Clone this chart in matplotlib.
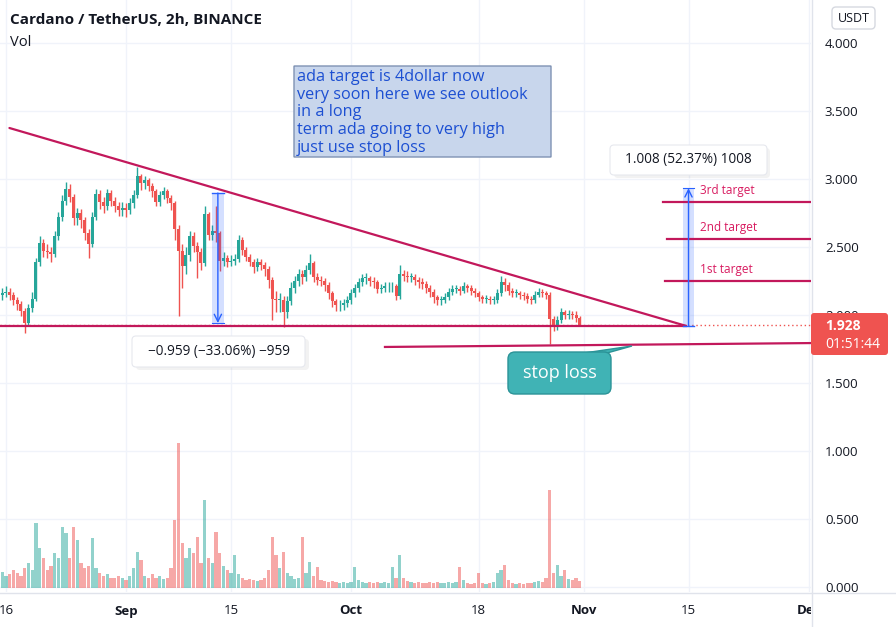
import datetime as dt
import numpy as np
import matplotlib
matplotlib.use("Agg")
import matplotlib.pyplot as plt
import matplotlib.dates as mdates
from matplotlib.colors import to_rgba
from matplotlib.patches import FancyBboxPatch, Rectangle, Polygon
from matplotlib.lines import Line2D
from matplotlib.transforms import Affine2D, Bbox, TransformedBbox, IdentityTransform

W, H = 896, 627
FONT = "Open Sans"

# ---------------- data ----------------
candle_start = "2021-08-15 00:00"
candle_step_hours = 12
first_open = 2.13
closes = [
    2.15, 2.16, 2.17, 2.15, 2.11, 2.08, 2.03, 1.94, 2.05, 2.12,
    2.39, 2.53, 2.47, 2.46, 2.45, 2.58, 2.72, 2.84, 2.93, 2.87,
    2.71, 2.75, 2.70, 2.60, 2.52, 2.72, 2.89, 2.83, 2.80, 2.90,
    2.84, 2.80, 2.77, 2.79, 2.77, 2.82, 2.88, 3.02, 2.97, 2.99,
    2.95, 2.91, 2.83, 2.88, 2.91, 2.86, 2.82, 2.63, 2.47, 2.36,
    2.44, 2.58, 2.51, 2.46, 2.38, 2.74, 2.59, 2.62, 2.60, 2.40,
    2.42, 2.39, 2.40, 2.41, 2.55, 2.48, 2.43, 2.39, 2.35, 2.39,
    2.37, 2.34, 2.26, 2.12, 2.11, 2.11, 2.02, 2.10, 2.20, 2.25,
    2.30, 2.28, 2.33, 2.38, 2.28, 2.26, 2.25, 2.22, 2.16, 2.10,
    2.07, 2.07, 2.09, 2.11, 2.16, 2.20, 2.24, 2.27, 2.27, 2.25,
    2.24, 2.19, 2.20, 2.21, 2.21, 2.21, 2.14, 2.30, 2.29, 2.28,
    2.28, 2.26, 2.24, 2.23, 2.20, 2.17, 2.13, 2.11, 2.11, 2.13,
    2.17, 2.19, 2.19, 2.18, 2.21, 2.20, 2.18, 2.16, 2.13, 2.12,
    2.12, 2.11, 2.11, 2.16, 2.24, 2.22, 2.18, 2.16, 2.16, 2.15,
    2.14, 2.12, 2.11, 2.15, 2.17, 2.16, 2.15, 1.97, 1.91, 1.96,
    2.02, 2.00, 2.01, 2.00, 1.98, 1.928,
]
highs = [
    2.19, 2.20, 2.21, 2.20, 2.17, 2.13, 2.10, 2.05, 2.08, 2.17,
    2.42, 2.58, 2.56, 2.52, 2.50, 2.62, 2.76, 2.88, 2.98, 2.96,
    2.89, 2.79, 2.78, 2.72, 2.63, 2.76, 2.93, 2.92, 2.87, 2.93,
    2.92, 2.87, 2.83, 2.83, 2.82, 2.86, 2.92, 3.09, 3.04, 3.02,
    3.01, 2.97, 2.93, 2.91, 2.94, 2.93, 2.88, 2.84, 2.66, 2.52,
    2.50, 2.62, 2.61, 2.54, 2.49, 2.80, 2.76, 2.66, 2.80, 2.62,
    2.46, 2.44, 2.44, 2.45, 2.59, 2.57, 2.50, 2.45, 2.41, 2.42,
    2.41, 2.39, 2.36, 2.28, 2.18, 2.16, 2.14, 2.14, 2.24, 2.29,
    2.34, 2.33, 2.37, 2.45, 2.40, 2.31, 2.29, 2.27, 2.24, 2.18,
    2.12, 2.11, 2.12, 2.14, 2.19, 2.23, 2.27, 2.30, 2.31, 2.29,
    2.28, 2.26, 2.23, 2.24, 2.24, 2.24, 2.23, 2.37, 2.33, 2.32,
    2.31, 2.30, 2.28, 2.27, 2.25, 2.22, 2.19, 2.15, 2.14, 2.16,
    2.20, 2.22, 2.22, 2.21, 2.24, 2.23, 2.22, 2.20, 2.18, 2.15,
    2.15, 2.14, 2.14, 2.19, 2.29, 2.27, 2.24, 2.20, 2.19, 2.18,
    2.17, 2.16, 2.14, 2.18, 2.20, 2.19, 2.18, 2.17, 1.99, 1.99,
    2.05, 2.04, 2.04, 2.03, 2.03, 1.99,
]
lows = [
    2.10, 2.11, 2.13, 2.11, 2.07, 2.04, 1.99, 1.87, 1.92, 2.02,
    2.10, 2.36, 2.43, 2.42, 2.39, 2.43, 2.55, 2.69, 2.81, 2.83,
    2.66, 2.66, 2.64, 2.55, 2.42, 2.50, 2.70, 2.78, 2.75, 2.77,
    2.80, 2.76, 2.73, 2.73, 2.72, 2.74, 2.79, 2.86, 2.92, 2.93,
    2.91, 2.87, 2.80, 2.80, 2.85, 2.82, 2.77, 2.55, 1.99, 2.20,
    2.30, 2.40, 2.46, 2.27, 2.33, 2.36, 2.55, 2.55, 2.54, 2.32,
    2.36, 2.35, 2.36, 2.37, 2.39, 2.44, 2.40, 2.36, 2.31, 2.32,
    2.33, 2.29, 2.20, 1.96, 2.02, 2.02, 1.91, 1.98, 2.07, 2.16,
    2.21, 2.23, 2.25, 2.30, 2.24, 2.22, 2.21, 2.18, 2.12, 2.06,
    2.03, 2.03, 2.04, 2.06, 2.08, 2.13, 2.17, 2.21, 2.23, 2.21,
    2.20, 2.16, 2.16, 2.17, 2.17, 2.17, 2.11, 2.12, 2.25, 2.24,
    2.24, 2.22, 2.20, 2.19, 2.16, 2.13, 2.09, 2.07, 2.07, 2.09,
    2.11, 2.15, 2.16, 2.15, 2.16, 2.17, 2.15, 2.13, 2.10, 2.09,
    2.09, 2.08, 2.08, 2.09, 2.14, 2.18, 2.15, 2.13, 2.13, 2.12,
    2.11, 2.09, 2.08, 2.09, 2.13, 2.13, 2.12, 1.79, 1.88, 1.89,
    1.94, 1.97, 1.97, 1.97, 1.95, 1.92,
]
volume_m = [
    14, 16, 12, 14, 18, 15, 12, 20, 25, 18,
    65, 40, 30, 18, 22, 35, 30, 61, 55, 30,
    61, 48, 25, 20, 22, 50, 20, 15, 12, 14,
    10, 10, 12, 10, 8, 12, 20, 36, 28, 12,
    10, 14, 10, 12, 9, 10, 20, 68, 145, 45,
    30, 40, 35, 51, 25, 88, 30, 25, 56, 35,
    22, 18, 15, 33, 14, 10, 8, 9, 8, 7,
    8, 10, 18, 51, 33, 20, 36, 15, 12, 9,
    10, 51, 15, 26, 12, 21, 8, 7, 6, 7,
    6, 5, 6, 5, 6, 21, 8, 6, 5, 6,
    5, 6, 5, 6, 5, 21, 10, 33, 10, 7,
    6, 5, 6, 5, 5, 6, 5, 6, 5, 5,
    6, 5, 6, 21, 8, 5, 4, 5, 15, 5,
    4, 5, 6, 15, 18, 23, 8, 5, 4, 5,
    4, 5, 5, 6, 7, 6, 10, 98, 15, 23,
    12, 18, 9, 8, 10, 7,
]

tick_dates = ["2021-08-16", "2021-09-01", "2021-09-15", "2021-10-01",
              "2021-10-18", "2021-11-01", "2021-11-15", "2021-12-01"]
tick_labels = ["16", "Sep", "15", "Oct", "18", "Nov", "15", "Dec"]
month_labels = ["Sep", "Oct", "Nov", "Dec"]
price_ticks = [0.0, 0.5, 1.0, 1.5, 2.0, 2.5, 3.0, 3.5, 4.0]

current_price = 1.928
countdown = "01:51:44"

trend_dates = ["2021-08-16 11:00", "2021-11-14 16:00"]
trend_prices = [3.375, 1.92]
support_dates = ["2021-08-14 00:00", "2021-11-14 16:00"]
support_price = 1.92
stop_dates = ["2021-10-05 12:40", "2021-12-06 00:00"]
stop_prices = [1.765, 1.796]
target_names = ["1st target", "2nd target", "3rd target"]
target_prices = [2.25, 2.559, 2.833]
target_starts = ["2021-11-11 20:50", "2021-11-12 03:00", "2021-11-11 14:20"]

down_meas_date = "2021-09-13 06:00"
down_meas_top, down_meas_bottom = 2.897, 1.941
down_meas_label = "\u22120.959 (\u221233.06%) \u2212959"
up_meas_date = "2021-11-15 00:00"
up_meas_bottom, up_meas_top = 1.92, 2.932
up_meas_label = "1.008 (52.37%) 1008"

note_text = ("ada target is 4dollar now\nvery soon here we see outlook\n"
             "in a long\nterm ada going to very high\njust use stop loss")
stop_text = "stop loss"
title_text = "Cardano / TetherUS, 2h, BINANCE"

# ---------------- style ----------------
UP, DN = "#26a69a", "#ef5350"
CRIMSON = "#c2185b"
BLUE = "#2962ff"
TXT = "#131722"
GRID = "#f0f3fa"

def dnum(s):
    return mdates.date2num(dt.datetime.fromisoformat(s))

fig = plt.figure(figsize=(W / 100, H / 100), dpi=100)
fig.patch.set_facecolor("white")
rect = [0, (H - 592) / H, 811 / W, 592 / H]
axv = fig.add_axes(rect, zorder=0)
ax = fig.add_axes(rect, zorder=1)
ax.patch.set_alpha(0)

sep1 = dnum("2021-09-01")
xlim = (sep1 - 126 / 7.5, sep1 + (811 - 126) / 7.5)
ylim = (-(592 - 587) / 136, 587 / 136)
for a in (ax, axv):
    a.set_xlim(*xlim)
    for s in a.spines.values():
        s.set_visible(False)
ax.set_ylim(*ylim)
axv.set_ylim(-4, 588)
axv.set_xticks([]); axv.set_yticks([])

# grid
for d in tick_dates:
    axv.axvline(dnum(d), color=GRID, lw=1, zorder=0)
for p in price_ticks:
    axv.plot([0, 1], [p, p], transform=ax.get_yaxis_transform(), color=GRID, lw=1, zorder=0)

# candles
t = dnum(candle_start) + np.arange(len(closes)) * candle_step_hours / 24
c = np.array(closes)
o = np.r_[first_open, c[:-1]]
up = c >= o
cols = np.where(up, UP, DN)
ax.vlines(t, lows, highs, colors=cols, lw=1.0, zorder=3)
ax.bar(t, np.maximum(np.abs(c - o), 0.006), bottom=np.minimum(o, c), width=0.4,
       color=cols, lw=0, zorder=3)

# volume
vcols = [to_rgba(UP if u else DN, 0.5) for u in up]
axv.bar(t, volume_m, width=0.42, color=vcols, lw=0, zorder=2)

# lines
ax.plot([dnum(d) for d in trend_dates], trend_prices, color=CRIMSON, lw=1.6, zorder=5,
        solid_capstyle="round")
ax.plot([dnum(d) for d in support_dates], [support_price] * 2, color=CRIMSON, lw=1.6, zorder=5)
ax.axhline(current_price, color=DN, lw=1, ls=(0, (1, 2)), zorder=4)
ax.plot([dnum(d) for d in stop_dates], stop_prices, color=CRIMSON, lw=1.6, zorder=5)
label_x = dnum(up_meas_date) + 1.55
for name, p, s in zip(target_names, target_prices, target_starts):
    ax.plot([dnum(s), xlim[1] + 5], [p, p], color=CRIMSON, lw=1.6, zorder=5)
    ax.text(label_x, p + 0.035, name, color="#d81b60", fontsize=8.5,
            family=FONT, va="bottom", ha="left", zorder=6)

# measurements
def measure(dstr, p_from, p_to):
    d = dnum(dstr)
    lo_p, hi_p = min(p_from, p_to), max(p_from, p_to)
    ax.add_patch(Rectangle((d - 0.75, lo_p), 1.5, hi_p - lo_p, fc=to_rgba(BLUE, 0.2),
                           lw=0, zorder=4))
    ax.annotate("", xy=(d, p_to), xytext=(d, p_from),
                arrowprops=dict(arrowstyle="->", color=BLUE, lw=1, shrinkA=0, shrinkB=0,
                                mutation_scale=13), zorder=6)
    ax.plot([d - 0.75, d + 0.75], [p_from, p_from], color=BLUE, lw=1, zorder=6)
    ax.plot([d - 0.75, d + 0.75], [p_to, p_to], color=BLUE, lw=0.8, zorder=6)

measure(down_meas_date, down_meas_top, down_meas_bottom)
measure(up_meas_date, up_meas_bottom, up_meas_top)

# ticks
ax.set_xticks([dnum(d) for d in tick_dates])
ax.set_xticklabels(tick_labels)
ax.tick_params(axis="x", length=0, pad=9, labelsize=9.5, labelcolor=TXT)
clipbb = TransformedBbox(Bbox.from_extents(0, 0, 811, H), IdentityTransform())
for lbl, lab in zip(ax.get_xticklabels(), tick_labels):
    lbl.set_family(FONT)
    if lab in month_labels:
        lbl.set_fontweight("bold")
    lbl.set_clip_box(clipbb)
    lbl.set_clip_on(True)
ax.yaxis.tick_right()
ax.set_yticks(price_ticks)
ax.set_yticklabels([f"{p:.3f}" for p in price_ticks])
ax.tick_params(axis="y", length=0, pad=10, labelsize=9.5, labelcolor=TXT)
for lbl in ax.get_yticklabels():
    lbl.set_family(FONT)

# ---------------- decorations in pixel space ----------------
PIX = Affine2D().scale(1, -1).translate(0, H)

def ptext(x, y, s, **kw):
    kw.setdefault("family", FONT)
    kw.setdefault("zorder", 8)
    return fig.text(x, y, s, transform=PIX, **kw)

def pbox(x0, y0, x1, y1, fc, ec, lw=1.0, r=4, z=7, alpha=1.0):
    p = FancyBboxPatch((x0, y0), x1 - x0, y1 - y0,
                       boxstyle=f"round,pad=0,rounding_size={r}",
                       fc=fc, ec=ec, lw=lw, transform=PIX, zorder=z, alpha=alpha)
    fig.add_artist(p)
    return p

# axis separators
fig.add_artist(Line2D([811.5, 811.5], [0, H], transform=PIX, color="#e0e3eb", lw=1, zorder=7))
fig.add_artist(Line2D([0, W], [592.5, 592.5], transform=PIX, color="#e0e3eb", lw=1, zorder=7))

# title
ptext(10, 20, title_text, fontsize=11, fontweight="bold", color=TXT, va="center")
ptext(10, 42, "Vol", fontsize=10.5, color=TXT, va="center")

# note box
pbox(294, 66, 551, 157, fc="#c8d6ec", ec="#7f92b3", lw=1, r=0.5)
ptext(297, 69, note_text, fontsize=11.7, color="#1c4fd2", va="top", ha="left",
      linespacing=1.14)

# measurement labels
pbox(614, 148, 770, 178, fc="#000000", ec="none", r=4, alpha=0.05)
pbox(610, 145, 767, 175, fc="white", ec="#e6e8ee", lw=0.8, r=4)
ptext(688.5, 160, up_meas_label, fontsize=9.8, color=TXT, ha="center", va="center")
pbox(136, 339, 309, 370, fc="#000000", ec="none", r=4, alpha=0.05)
pbox(132, 336, 305, 367, fc="white", ec="#e6e8ee", lw=0.8, r=4)
ptext(218.5, 351.5, down_meas_label, fontsize=9.8, color=TXT, ha="center", va="center")

# stop loss callout
fig.add_artist(Polygon([(584, 353), (607, 353), (632, 346)], closed=True, transform=PIX,
                       fc="#40b3b5", ec="#2b9397", lw=1, zorder=7))
pbox(508, 352, 611, 394, fc="#40b3b5", ec="#2b9397", lw=1, r=7)
fig.add_artist(Rectangle((585, 352.5), 21, 2.5, transform=PIX, fc="#40b3b5", ec="none", zorder=7))
ptext(559.5, 373, stop_text, fontsize=13, color="white", ha="center", va="center")

# price scale decorations
pbox(832, 7, 875, 29, fc="white", ec="#d6d9e0", lw=1, r=4)
ptext(853.5, 18.5, "USDT", fontsize=9, color=TXT, ha="center", va="center")
pbox(811, 313, 888, 355, fc=DN, ec="none", r=3)
ptext(825, 326.5, f"{current_price:.3f}", fontsize=10, fontweight="bold", color="white",
      va="center", ha="left")
ptext(825, 345, countdown, fontsize=10, color="white", va="center", ha="left")

fig.savefig("out.png", dpi=100, facecolor="white")
